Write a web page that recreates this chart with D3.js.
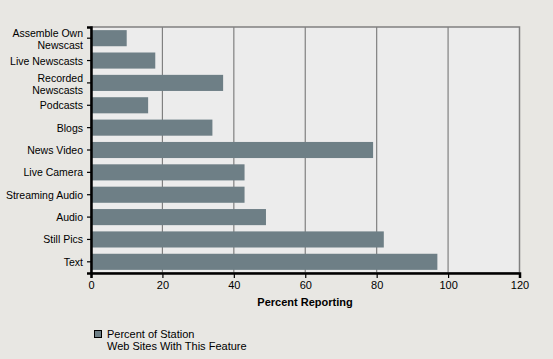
<!DOCTYPE html>
<html><head><meta charset="utf-8">
<script src="https://cdn.jsdelivr.net/npm/d3@7"></script>
<style>
body{margin:0;background:#e8e7e3;}
svg{display:block;font-family:"Liberation Sans",Arial,sans-serif;}
</style></head>
<body><svg id="c" width="553" height="359"></svg>
<script>
const categories = ["Assemble Own|Newscast","Live Newscasts","Recorded|Newscasts","Podcasts","Blogs","News Video","Live Camera","Streaming Audio","Audio","Still Pics","Text"];
const values = [10,18,37,16,34,79,43,43,49,82,97];
const xTicks = [0,20,40,60,80,100,120];
const xTitle = "Percent Reporting";
const legendLabel = ["Percent of Station","Web Sites With This Feature"];

const svg = d3.select("#c");
const m = {l:91, r:519.5, t:27, b:273};
const x = d3.scaleLinear().domain([0,120]).range([m.l,m.r]);
const y = d3.scaleBand().domain(categories).range([m.t,m.b]).paddingInner(0.28).paddingOuter(0.14);

svg.append("rect").attr("x",m.l).attr("y",m.t).attr("width",m.r-m.l).attr("height",m.b-m.t).attr("fill","#ececec").attr("stroke","#808080").attr("stroke-width",1.5);

svg.append("g").selectAll("line").data(xTicks.slice(1,-1)).join("line")
  .attr("x1",d=>x(d)).attr("x2",d=>x(d)).attr("y1",m.t).attr("y2",m.b)
  .attr("stroke","#808080").attr("stroke-width",1.2);

svg.append("g").selectAll("rect").data(values).join("rect")
  .attr("x",x(0)).attr("y",(d,i)=>y(categories[i])).attr("height",y.bandwidth())
  .attr("width",d=>x(d)-x(0)).attr("fill","#6e7f86");

// x axis
const xa = svg.append("g").attr("transform",`translate(0,${m.b})`)
  .call(d3.axisBottom(x).tickValues(xTicks).tickSize(5).tickPadding(3));
xa.select(".domain").attr("stroke","#000").attr("stroke-width",2.5);
xa.selectAll(".tick line").attr("stroke","#000").attr("stroke-width",1.2);
xa.selectAll("text").attr("font-size",11).attr("fill","#000").attr("font-family","Liberation Sans, Arial, sans-serif");

// y axis
const ya = svg.append("g").attr("transform",`translate(${m.l},0)`)
  .call(d3.axisLeft(y).tickSize(4).tickPadding(3).tickFormat(""));
ya.select(".domain").attr("stroke","#000").attr("stroke-width",2.5);
ya.selectAll(".tick line").attr("stroke","#000").attr("stroke-width",1.2);
ya.selectAll(".tick").each(function(d){
  const lines = d.split("|");
  const t = d3.select(this).append("text").attr("x",-8).attr("text-anchor","end")
    .attr("font-size",10.5).attr("fill","#000");
  const off = lines.length===1 ? 4 : -1;
  lines.forEach((ln,i)=>t.append("tspan").attr("x",-8).attr("y",off+i*12).text(ln));
});

svg.append("text").attr("x",305).attr("y",306).attr("text-anchor","middle")
  .attr("font-size",11).attr("font-weight","bold").text(xTitle);

svg.append("rect").attr("x",94.5).attr("y",330.5).attr("width",7).attr("height",7)
  .attr("fill","#6e7f86").attr("stroke","#000").attr("stroke-width",1);
const lt = svg.append("text").attr("font-size",11).attr("fill","#000");
legendLabel.forEach((s,i)=>lt.append("tspan").attr("x",107).attr("y",338+i*12).text(s));
</script></body></html>
